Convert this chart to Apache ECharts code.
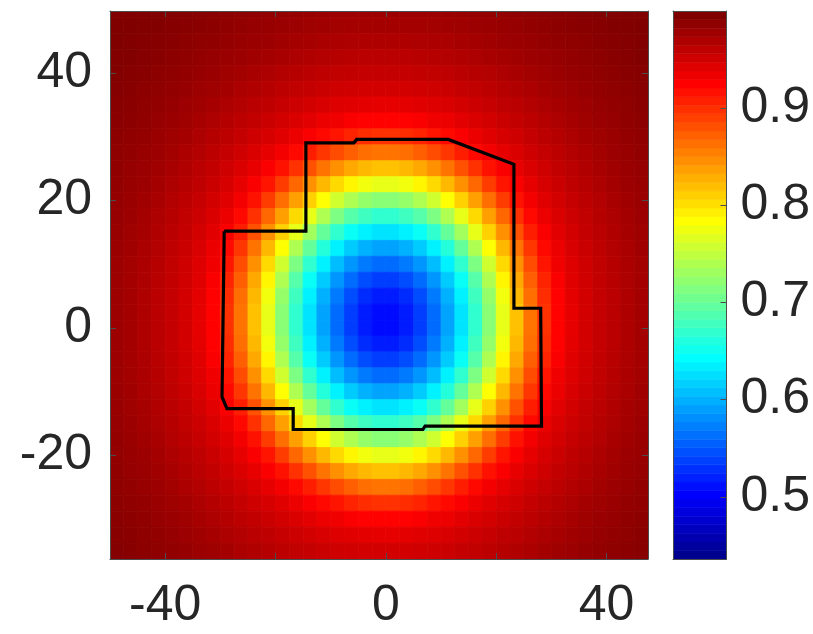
<!DOCTYPE html>
<html>
<head>
<meta charset="utf-8">
<script src="https://cdn.jsdelivr.net/npm/echarts@6/dist/echarts.min.js"></script>
<style>html,body{margin:0;padding:0;background:#fff}#c{width:813px;height:634px}</style>
</head>
<body>
<div id="c"></div>
<script>
// ---- data ----
const xCenters = [-48.75,-46.25,-43.75,-41.25,-38.75,-36.25,-33.75,-31.25,-28.75,-26.25,-23.75,-21.25,-18.75,-16.25,-13.75,-11.25,-8.75,-6.25,-3.75,-1.25,1.25,3.75,6.25,8.75,11.25,13.75,16.25,18.75,21.25,23.75,26.25,28.75,31.25,33.75,36.25,38.75,41.25,43.75,46.25];
const yCenters = [50,47.5,45,42.5,40,37.5,35,32.5,30,27.5,25,22.5,20,17.5,15,12.5,10,7.5,5,2.5,0,-2.5,-5,-7.5,-10,-12.5,-15,-17.5,-20,-22.5,-25,-27.5,-30,-32.5,-35];
const zRows = [
[1,1,1,.999,.998,.997,.995,.994,.993,.991,.990,.989,.988,.987,.986,.985,.984,.984,.983,.983,.983,.983,.984,.984,.985,.986,.987,.988,.989,.990,.991,.993,.994,.995,.997,.998,.999,1,1],
[1,1,.999,.998,.996,.995,.994,.992,.990,.989,.987,.986,.985,.983,.982,.981,.980,.979,.979,.979,.979,.979,.979,.980,.981,.982,.983,.985,.986,.987,.989,.990,.992,.994,.995,.996,.998,.999,1],
[1,.999,.997,.996,.995,.993,.991,.990,.988,.986,.985,.983,.981,.979,.978,.976,.975,.974,.973,.973,.973,.973,.974,.975,.976,.978,.979,.981,.983,.985,.986,.988,.990,.991,.993,.995,.996,.997,.999],
[.999,.998,.996,.995,.993,.991,.989,.987,.985,.983,.981,.979,.977,.974,.972,.971,.969,.968,.967,.967,.967,.967,.968,.969,.971,.972,.974,.977,.979,.981,.983,.985,.987,.989,.991,.993,.995,.996,.998],
[.998,.996,.995,.993,.991,.989,.987,.985,.982,.980,.977,.974,.971,.969,.967,.965,.963,.962,.961,.961,.961,.961,.962,.963,.965,.967,.969,.971,.974,.977,.980,.982,.985,.987,.989,.991,.993,.995,.996],
[.997,.995,.993,.991,.989,.987,.984,.982,.979,.975,.972,.969,.966,.963,.961,.958,.956,.954,.953,.953,.953,.953,.954,.956,.958,.961,.963,.966,.969,.972,.975,.979,.982,.984,.987,.989,.991,.993,.995],
[.995,.994,.991,.989,.987,.984,.981,.978,.974,.971,.967,.964,.960,.957,.953,.950,.947,.945,.943,.942,.942,.943,.945,.947,.950,.953,.957,.960,.964,.967,.971,.974,.978,.981,.984,.987,.989,.991,.994],
[.994,.992,.990,.987,.985,.982,.978,.974,.970,.966,.962,.958,.953,.949,.944,.939,.936,.931,.928,.927,.927,.928,.931,.936,.939,.944,.949,.953,.958,.962,.966,.970,.974,.978,.982,.985,.987,.990,.992],
[.993,.990,.988,.985,.982,.979,.974,.970,.966,.961,.956,.951,.945,.939,.931,.924,.917,.909,.904,.901,.901,.904,.909,.917,.924,.931,.939,.945,.951,.956,.961,.966,.970,.974,.979,.982,.985,.988,.990],
[.991,.989,.986,.983,.980,.975,.971,.966,.961,.956,.949,.942,.934,.924,.912,.898,.886,.875,.867,.864,.864,.867,.875,.886,.898,.912,.924,.934,.942,.949,.956,.961,.966,.971,.975,.980,.983,.986,.989],
[.990,.987,.985,.981,.977,.972,.967,.962,.956,.949,.941,.931,.919,.901,.883,.864,.847,.834,.825,.820,.820,.825,.834,.847,.864,.883,.901,.919,.931,.941,.949,.956,.962,.967,.972,.977,.981,.985,.987],
[.989,.986,.983,.979,.974,.969,.964,.958,.951,.942,.931,.917,.895,.871,.847,.825,.806,.790,.778,.772,.772,.778,.790,.806,.825,.847,.871,.895,.917,.931,.942,.951,.958,.964,.969,.974,.979,.983,.986],
[.988,.985,.981,.977,.971,.966,.960,.953,.945,.934,.919,.895,.867,.839,.811,.784,.759,.740,.726,.719,.719,.726,.740,.759,.784,.811,.839,.867,.895,.919,.934,.945,.953,.960,.966,.971,.977,.981,.985],
[.987,.983,.979,.974,.969,.963,.957,.949,.939,.924,.901,.871,.839,.806,.772,.740,.712,.690,.677,.669,.669,.677,.690,.712,.740,.772,.806,.839,.871,.901,.924,.939,.949,.957,.963,.969,.974,.979,.983],
[.986,.982,.978,.972,.967,.961,.953,.944,.931,.912,.883,.847,.811,.772,.733,.698,.669,.647,.634,.627,.627,.634,.647,.669,.698,.733,.772,.811,.847,.883,.912,.931,.944,.953,.961,.967,.972,.978,.982],
[.985,.981,.976,.971,.965,.958,.950,.939,.924,.898,.864,.825,.784,.740,.698,.662,.634,.613,.598,.591,.591,.598,.613,.634,.662,.698,.740,.784,.825,.864,.898,.924,.939,.950,.958,.965,.971,.976,.981],
[.984,.980,.975,.969,.963,.956,.947,.936,.917,.886,.847,.806,.759,.712,.669,.634,.605,.583,.567,.559,.559,.567,.583,.605,.634,.669,.712,.759,.806,.847,.886,.917,.936,.947,.956,.963,.969,.975,.980],
[.984,.979,.974,.968,.962,.954,.945,.931,.909,.875,.834,.790,.740,.690,.647,.613,.583,.559,.541,.533,.533,.541,.559,.583,.613,.647,.690,.740,.790,.834,.875,.909,.931,.945,.954,.962,.968,.974,.979],
[.983,.979,.973,.967,.961,.953,.943,.928,.904,.867,.825,.778,.726,.677,.634,.598,.567,.541,.523,.514,.514,.523,.541,.567,.598,.634,.677,.726,.778,.825,.867,.904,.928,.943,.953,.961,.967,.973,.979],
[.983,.979,.973,.967,.961,.953,.942,.927,.901,.864,.820,.772,.719,.669,.627,.591,.559,.533,.514,.504,.504,.514,.533,.559,.591,.627,.669,.719,.772,.820,.864,.901,.927,.942,.953,.961,.967,.973,.979],
[.983,.979,.973,.967,.961,.953,.942,.927,.901,.864,.820,.772,.719,.669,.627,.591,.559,.533,.514,.504,.504,.514,.533,.559,.591,.627,.669,.719,.772,.820,.864,.901,.927,.942,.953,.961,.967,.973,.979],
[.983,.979,.973,.967,.961,.953,.943,.928,.904,.867,.825,.778,.726,.677,.634,.598,.567,.541,.523,.514,.514,.523,.541,.567,.598,.634,.677,.726,.778,.825,.867,.904,.928,.943,.953,.961,.967,.973,.979],
[.984,.979,.974,.968,.962,.954,.945,.931,.909,.875,.834,.790,.740,.690,.647,.613,.583,.559,.541,.533,.533,.541,.559,.583,.613,.647,.690,.740,.790,.834,.875,.909,.931,.945,.954,.962,.968,.974,.979],
[.984,.980,.975,.969,.963,.956,.947,.936,.917,.886,.847,.806,.759,.712,.669,.634,.605,.583,.567,.559,.559,.567,.583,.605,.634,.669,.712,.759,.806,.847,.886,.917,.936,.947,.956,.963,.969,.975,.980],
[.985,.981,.976,.971,.965,.958,.950,.939,.924,.898,.864,.825,.784,.740,.698,.662,.634,.613,.598,.591,.591,.598,.613,.634,.662,.698,.740,.784,.825,.864,.898,.924,.939,.950,.958,.965,.971,.976,.981],
[.986,.982,.978,.972,.967,.961,.953,.944,.931,.912,.883,.847,.811,.772,.733,.698,.669,.647,.634,.627,.627,.634,.647,.669,.698,.733,.772,.811,.847,.883,.912,.931,.944,.953,.961,.967,.972,.978,.982],
[.987,.983,.979,.974,.969,.963,.957,.949,.939,.924,.901,.871,.839,.806,.772,.740,.712,.690,.677,.669,.669,.677,.690,.712,.740,.772,.806,.839,.871,.901,.924,.939,.949,.957,.963,.969,.974,.979,.983],
[.988,.985,.981,.977,.971,.966,.960,.953,.945,.934,.919,.895,.867,.839,.811,.784,.759,.740,.726,.719,.719,.726,.740,.759,.784,.811,.839,.867,.895,.919,.934,.945,.953,.960,.966,.971,.977,.981,.985],
[.989,.986,.983,.979,.974,.969,.964,.958,.951,.942,.931,.917,.895,.871,.847,.825,.806,.790,.778,.772,.772,.778,.790,.806,.825,.847,.871,.895,.917,.931,.942,.951,.958,.964,.969,.974,.979,.983,.986],
[.990,.987,.985,.981,.977,.972,.967,.962,.956,.949,.941,.931,.919,.901,.883,.864,.847,.834,.825,.820,.820,.825,.834,.847,.864,.883,.901,.919,.931,.941,.949,.956,.962,.967,.972,.977,.981,.985,.987],
[.991,.989,.986,.983,.980,.975,.971,.966,.961,.956,.949,.942,.934,.924,.912,.898,.886,.875,.867,.864,.864,.867,.875,.886,.898,.912,.924,.934,.942,.949,.956,.961,.966,.971,.975,.980,.983,.986,.989],
[.993,.990,.988,.985,.982,.979,.974,.970,.966,.961,.956,.951,.945,.939,.931,.924,.917,.909,.904,.901,.901,.904,.909,.917,.924,.931,.939,.945,.951,.956,.961,.966,.970,.974,.979,.982,.985,.988,.990],
[.994,.992,.990,.987,.985,.982,.978,.974,.970,.966,.962,.958,.953,.949,.944,.939,.936,.931,.928,.927,.927,.928,.931,.936,.939,.944,.949,.953,.958,.962,.966,.970,.974,.978,.982,.985,.987,.990,.992],
[.995,.994,.991,.989,.987,.984,.981,.978,.974,.971,.967,.964,.960,.957,.953,.950,.947,.945,.943,.942,.942,.943,.945,.947,.950,.953,.957,.960,.964,.967,.971,.974,.978,.981,.984,.987,.989,.991,.994],
[.997,.995,.993,.991,.989,.987,.984,.982,.979,.975,.972,.969,.966,.963,.961,.958,.956,.954,.953,.953,.953,.953,.954,.956,.958,.961,.963,.966,.969,.972,.975,.979,.982,.984,.987,.989,.991,.993,.995]
];
const polyX = [-29.3,-14.5,-14.5,-5.8,-5.3,11.3,23.2,23.2,28.05,28.2,7.1,6.7,-16.8,-16.8,-28.8,-29.7,-29.3];
const polyY = [15.2,15.2,29.06,29.06,29.6,29.6,25.7,3.1,3.1,-15.4,-15.4,-15.93,-15.93,-12.64,-12.64,-10.8,15.2];
const xTicks = [-40,-20,0,20,40];
const xTickLabels = [-40,0,40];
const yTicks = [-20,0,20,40];
const cbTicks = [0.5,0.6,0.7,0.8,0.9];
const cMin = 0.436, cMax = 1.0;

// ---- jet(64) colormap (MATLAB definition) ----
function jet(m){
  const n = Math.ceil(m/4), u = [];
  for(let i=1;i<=n;i++) u.push(i/n);
  for(let i=1;i<n;i++) u.push(1);
  for(let i=n;i>=1;i--) u.push(i/n);
  const gOff = Math.ceil(n/2) - (m%4===1?1:0);
  const R = new Array(m).fill(0), G = new Array(m).fill(0), B = new Array(m).fill(0);
  for(let k=0;k<u.length;k++){
    const g = gOff + k; const r = g + n; const b = g - n;
    if(g>=0&&g<m) G[g]=u[k];
    if(r>=0&&r<m) R[r]=u[k];
    if(b>=0&&b<m) B[b]=u[k];
  }
  const out=[];
  for(let i=0;i<m;i++){
    const h=v=>Math.round(v*255).toString(16).padStart(2,'0');
    out.push('#'+h(R[i])+h(G[i])+h(B[i]));
  }
  return out;
}
const jetColors = jet(64);

const cells = [];
zRows.forEach((row,i)=>row.forEach((v,j)=>cells.push([xCenters[j], yCenters[i], v])));
const cellW = Math.abs(xCenters[1]-xCenters[0]);
const cellH = Math.abs(yCenters[0]-yCenters[1]);

const bands = [];
for(let i=0;i<64;i++){
  bands.push([cMin + (cMax-cMin)*i/64, cMin + (cMax-cMin)*(i+1)/64, i]);
}

const FONT = '"Liberation Sans", Arial, Helvetica, sans-serif';
const TXT = '#262626';
const AX = '#4d4d4d';

const chart = echarts.init(document.getElementById('c'), null, {renderer:'canvas'});
chart.setOption({
  animation:false,
  backgroundColor:'#fff',
  grid:[
    {left:110, top:11, width:538, height:548},
    {left:673, top:11, width:55, height:548}
  ],
  visualMap:{type:'continuous', show:false, min:cMin, max:cMax, dimension:2, seriesIndex:0, inRange:{color:jetColors}},
  xAxis:[
    {gridIndex:0, type:'value', min:-50, max:47.5, position:'bottom', z:10,
     axisLine:{show:true, onZero:false, lineStyle:{color:AX, width:1}},
     axisTick:{show:true, inside:true, length:6, customValues:xTicks, lineStyle:{color:AX}},
     axisLabel:{customValues:xTickLabels, fontSize:50, color:TXT, fontFamily:FONT, margin:22},
     splitLine:{show:false}},
    {gridIndex:0, type:'value', min:-50, max:47.5, position:'top', z:10,
     axisLine:{show:true, onZero:false, lineStyle:{color:AX, width:1}},
     axisTick:{show:true, inside:true, length:6, customValues:xTicks, lineStyle:{color:AX}},
     axisLabel:{show:false}, splitLine:{show:false}},
    {gridIndex:1, type:'value', min:0, max:1, position:'bottom', z:10,
     axisLine:{show:true, onZero:false, lineStyle:{color:AX, width:1}},
     axisTick:{show:false}, axisLabel:{show:false}, splitLine:{show:false}},
    {gridIndex:1, type:'value', min:0, max:1, position:'top', z:10,
     axisLine:{show:true, onZero:false, lineStyle:{color:AX, width:1}},
     axisTick:{show:false}, axisLabel:{show:false}, splitLine:{show:false}}
  ],
  yAxis:[
    {gridIndex:0, type:'value', min:-36.25, max:49.75, position:'left', z:10,
     axisLine:{show:true, onZero:false, lineStyle:{color:AX, width:1}},
     axisTick:{show:true, inside:true, length:6, customValues:yTicks, lineStyle:{color:AX}},
     axisLabel:{customValues:yTicks, fontSize:50, color:TXT, fontFamily:FONT, margin:18},
     splitLine:{show:false}},
    {gridIndex:0, type:'value', min:-36.25, max:49.75, position:'right', z:10,
     axisLine:{show:true, onZero:false, lineStyle:{color:AX, width:1}},
     axisTick:{show:true, inside:true, length:6, customValues:yTicks, lineStyle:{color:AX}},
     axisLabel:{show:false}, splitLine:{show:false}},
    {gridIndex:1, type:'value', min:cMin, max:cMax, position:'left', z:10,
     axisLine:{show:true, onZero:false, lineStyle:{color:AX, width:1}},
     axisTick:{show:false}, axisLabel:{show:false}, splitLine:{show:false}},
    {gridIndex:1, type:'value', min:cMin, max:cMax, position:'right', z:10,
     axisLine:{show:true, onZero:false, lineStyle:{color:AX, width:1}},
     axisTick:{show:true, inside:true, length:6, customValues:cbTicks, lineStyle:{color:AX}},
     axisLabel:{customValues:cbTicks, fontSize:50, color:TXT, fontFamily:FONT, margin:14, formatter:v=>v.toFixed(1)},
     splitLine:{show:false}}
  ],
  series:[
    {type:'custom', xAxisIndex:0, yAxisIndex:0, clip:true, data:cells, z:1,
     renderItem:function(params, api){
       const x = api.value(0), y = api.value(1);
       const p1 = api.coord([x-cellW/2, y+cellH/2]);
       const p2 = api.coord([x+cellW/2, y-cellH/2]);
       const c = api.visual('color');
       return {type:'rect', shape:{x:p1[0], y:p1[1], width:p2[0]-p1[0], height:p2[1]-p1[1]},
               style:{fill:c, stroke:c, lineWidth:0.8}};
     }},
    {type:'line', xAxisIndex:0, yAxisIndex:0, data:polyX.map((x,i)=>[x, polyY[i]]),
     symbol:'none', z:5, lineStyle:{color:'#000', width:3.2, join:'miter'}},
    {type:'custom', xAxisIndex:2, yAxisIndex:3, clip:true, data:bands, z:1,
     renderItem:function(params, api){
       const lo = api.value(0), hi = api.value(1), k = api.value(2);
       const p1 = api.coord([0, hi]);
       const p2 = api.coord([1, lo]);
       return {type:'rect', shape:{x:p1[0], y:p1[1], width:p2[0]-p1[0], height:p2[1]-p1[1]},
               style:{fill:jetColors[k], stroke:jetColors[k], lineWidth:0.6}};
     }}
  ]
});
</script>
</body>
</html>
